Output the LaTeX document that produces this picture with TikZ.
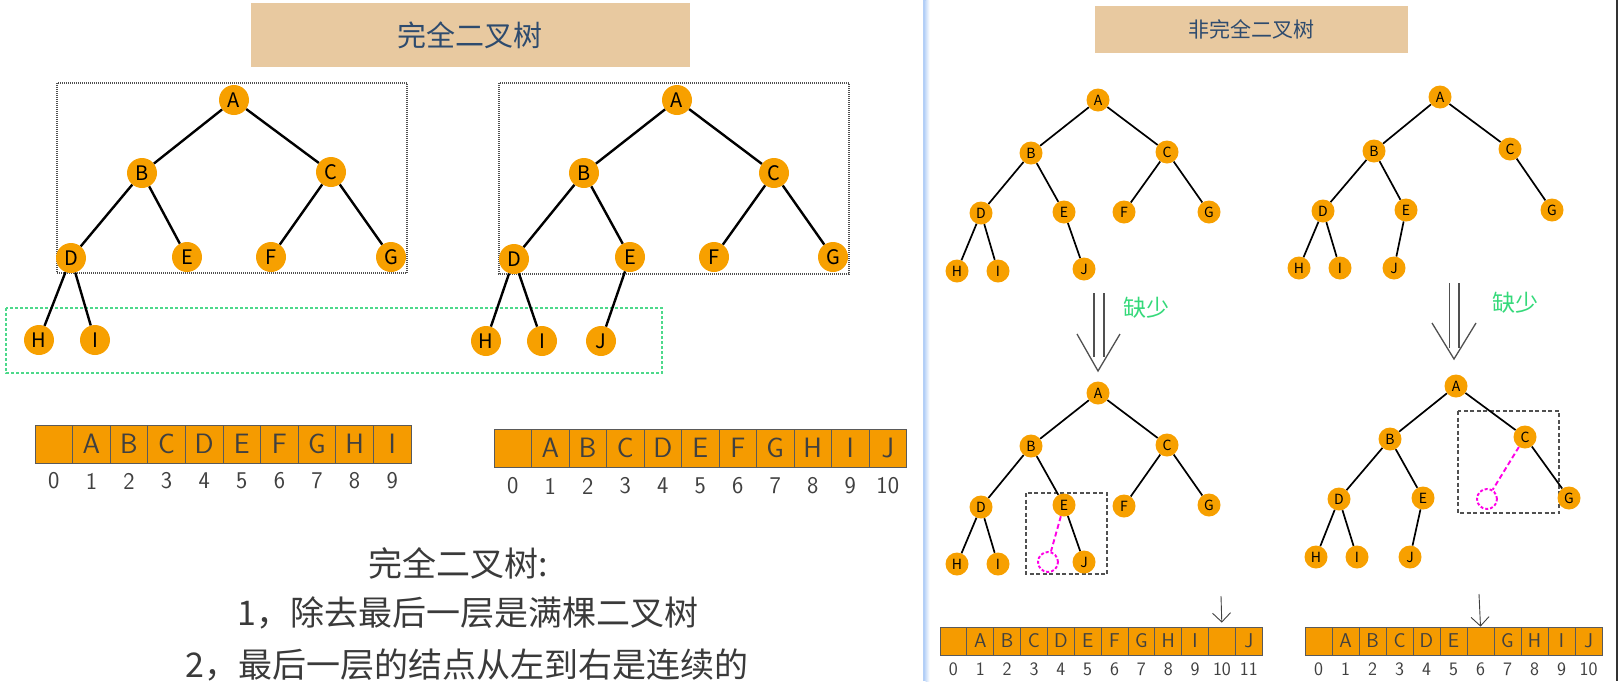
\documentclass[tikz,border=0pt]{standalone}
\usepackage{fontspec}
\setmainfont{Noto Sans CJK SC}
\usetikzlibrary{arrows.meta}
\definecolor{nodeorange}{HTML}{F7A000}
\definecolor{cellorange}{HTML}{F59B00}
\definecolor{cellline}{HTML}{5A5A5A}
\definecolor{paper}{HTML}{E8C9A0}
\definecolor{titleink}{HTML}{2E4B6E}
\definecolor{framegray}{HTML}{505050}
\definecolor{framegreen}{HTML}{4CD98A}
\definecolor{lackgreen}{HTML}{35D97A}
\definecolor{missmagenta}{HTML}{FF00E6}
\definecolor{sepblue}{HTML}{B3CFF7}
\definecolor{textgray}{HTML}{3A3A3A}
\definecolor{handink}{HTML}{404040}

\begin{document}
\begin{tikzpicture}[
  x=1pt,
  y=-1pt,
  bignode/.style={circle, fill=nodeorange, minimum size=30pt, inner sep=0pt,
    font=\fontsize{20}{20}\selectfont},
  smallnode/.style={circle, fill=nodeorange, minimum size=23pt, inner sep=0pt,
    font=\fontsize{14}{14}\selectfont},
  bigedge/.style={draw=black, line width=2.4pt},
  smalledge/.style={draw=black, line width=1.7pt},
  dotbox/.style={draw=framegray, line width=1.1pt, dash pattern=on 1pt off 1pt},
  greenbox/.style={draw=framegreen, line width=1.2pt, dash pattern=on 3pt off 2pt},
  dashbox/.style={draw=framegray, line width=1.6pt, dash pattern=on 4pt off 2.5pt},
  missnode/.style={circle, draw=missmagenta, line width=1.9pt,
    dash pattern=on 3pt off 2pt, minimum size=20pt, inner sep=0pt},
  missline/.style={draw=missmagenta, line width=1.9pt, dash pattern=on 5pt off 3pt},
  bigcell/.style={draw=cellline, fill=cellorange, line width=0.8pt,
    minimum width=37.6pt, minimum height=38pt, inner sep=0pt, text=handink,
    font=\sffamily\fontsize{28}{28}\selectfont},
  smallcell/.style={draw=cellline, fill=cellorange, line width=0.8pt,
    minimum width=26.9pt, minimum height=28pt, inner sep=0pt, text=handink,
    font=\sffamily\fontsize{20}{20}\selectfont},
  bigindex/.style={text=handink, font=\sffamily\fontsize{24}{24}\selectfont},
  smallindex/.style={text=handink, font=\sffamily\fontsize{19}{19}\selectfont},
  titlebox/.style={fill=paper, inner sep=0pt, text=titleink},
  lack/.style={text=lackgreen, font=\fontsize{23}{23}\selectfont},
  hollow/.style={draw=framegray, line width=1.3pt},
  handarrow/.style={draw=handink, line width=0.9pt,
    -{Straight Barb[length=9pt,width=18pt]}},
  rule/.style={text=textgray, font=\fontsize{34}{34}\selectfont}
]
  \useasboundingbox (0,0) rectangle (1618,681);

  % Page separators.
  \fill[sepblue] (922.5,0) rectangle (925.5,681);
  \shade[left color=sepblue!70, right color=white] (925.5,0) rectangle (929.5,681);
  \draw[draw=black!80, line width=1.5pt] (1617.2,0) -- (1617.2,681);

  % Titles.
  \node[titlebox, minimum width=439pt, minimum height=64pt,
    font=\fontsize{29}{29}\selectfont] (fulltitle) at (470,35) {完全二叉树};
  \node[titlebox, minimum width=313pt, minimum height=47pt,
    font=\fontsize{21}{21}\selectfont] (nontitle) at (1251.5,29.5) {非完全二叉树};

  % Complete trees.
  \draw[dotbox] (57,83) rectangle (407,273);
  \draw[dotbox] (499,83) rectangle (849,274);
  \draw[greenbox] (6,308) rectangle (662,373);

  \foreach \n/\px/\py in {A/234/100,B/142/173,C/331/172,D/71/258,E/187/257,
      F/271/257,G/391/257,H/39/340,I/95/340}
    \node[bignode] (fa\n) at (\px,\py) {\n};
  \foreach \s/\t in {A/B,A/C,B/D,B/E,C/F,C/G,D/H,D/I}
    \draw[bigedge] (fa\s) -- (fa\t);

  \foreach \n/\px/\py in {A/677/100,B/584/173,C/774/173,D/514/259,E/630/257,
      F/714/257,G/833/257,H/486/341,I/542/341,J/601/341}
    \node[bignode] (fb\n) at (\px,\py) {\n};
  \foreach \s/\t in {A/B,A/C,B/D,B/E,C/F,C/G,D/H,D/I,E/J}
    \draw[bigedge] (fb\s) -- (fb\t);

  % Arrays of the complete trees.
  \foreach \t [count=\i from 0] in {{},A,B,C,D,E,F,G,H,I} {
    \node[bigcell] (ca\i) at ({35+37.6*(\i+0.5)},444) {\t};
    \node[bigindex] (ia\i) at ({35+37.6*(\i+0.5)},481) {\i};
  }
  \foreach \t [count=\i from 0] in {{},A,B,C,D,E,F,G,H,I,J} {
    \node[bigcell] (cb\i) at ({494+37.5*(\i+0.5)},448) {\t};
    \node[bigindex] (ib\i) at ({494+37.5*(\i+0.5)},486) {\i};
  }

  \node[rule] (rulehead) at (458,563) {完全二叉树:};
  \node[rule] (ruleone) at (468,613) {1，除去最后一层是满棵二叉树};
  \node[rule] (ruletwo) at (467,665) {2，最后一层的结点从左到右是连续的};

  % Trees that are not complete.
  \foreach \n/\px/\py in {A/1098/100,B/1031/153,C/1167/152,D/981/213,E/1064/212,
      F/1124/212,G/1209/212,H/957/271,I/998/271,J/1084/269}
    \node[smallnode] (na\n) at (\px,\py) {\n};
  \foreach \s/\t in {A/B,A/C,B/D,B/E,C/F,C/G,D/H,D/I,E/J}
    \draw[smalledge] (na\s) -- (na\t);

  \foreach \n/\px/\py in {A/1440/97,B/1374/151,C/1510/149,D/1323/211,E/1406/210,
      G/1552/210,H/1299/268,I/1340/268,J/1394/268}
    \node[smallnode] (nb\n) at (\px,\py) {\n};
  \foreach \s/\t in {A/B,A/C,B/D,B/E,C/G,D/H,D/I,E/J}
    \draw[smalledge] (nb\s) -- (nb\t);

  % Missing child.
  \draw[hollow] (1094,293) -- (1094,357) (1104,293) -- (1104,357);
  \draw[hollow] (1077,334) -- (1098,371) -- (1120,334);
  \node[lack] (lackl) at (1146,308) {缺少};
  \draw[hollow] (1449.5,283) -- (1449.5,348) (1459,283) -- (1459,348);
  \draw[hollow] (1432,323) -- (1454,359) -- (1476,323);
  \node[lack] (lackr) at (1515,303) {缺少};

  \draw[dashbox] (1026,493) rectangle (1107,574);
  \foreach \n/\px/\py in {A/1098/393,B/1031/446,C/1167/445,D/981/507,E/1064/505,
      F/1124/506,G/1209/505,H/957/564,I/998/564,J/1084/562}
    \node[smallnode] (ma\n) at (\px,\py) {\n};
  \foreach \s/\t in {A/B,A/C,B/D,B/E,C/F,C/G,D/H,D/I,E/J}
    \draw[smalledge] (ma\s) -- (ma\t);
  \node[missnode] (mamiss) at (1048,562) {};
  \draw[missline] (maE) -- (mamiss);

  \draw[dashbox] (1458,411) rectangle (1559,513);
  \foreach \n/\px/\py in {A/1456/386,B/1390/439,C/1525/437,D/1339/499,E/1423/498,
      G/1569/498,H/1316/557,I/1357/557,J/1410/557}
    \node[smallnode] (mb\n) at (\px,\py) {\n};
  \foreach \s/\t in {A/B,A/C,B/D,B/E,C/G,D/H,D/I,E/J}
    \draw[smalledge] (mb\s) -- (mb\t);
  \node[missnode] (mbmiss) at (1487,499) {};
  \draw[missline] (mbC) -- (mbmiss);

  % Arrays with a gap.
  \foreach \t [count=\i from 0] in {{},A,B,C,D,E,F,G,H,I,{},J} {
    \node[smallcell] (ga\i) at ({940+26.85*(\i+0.5)},641) {\t};
    \node[smallindex] (ja\i) at ({940+26.85*(\i+0.5)},669) {\i};
  }
  \foreach \t [count=\i from 0] in {{},A,B,C,D,E,{},G,H,I,J} {
    \node[smallcell] (gb\i) at ({1305+27*(\i+0.5)},641) {\t};
    \node[smallindex] (jb\i) at ({1305+27*(\i+0.5)},669) {\i};
  }
  \coordinate (gapl) at (1221,596);
  \draw[handarrow, shorten >=4pt] (gapl) -- (ga10.north);
  \coordinate (gapr) at (1479,594);
  \draw[handarrow] (gapr) -- (gb6.north);

\end{tikzpicture}
\end{document}
